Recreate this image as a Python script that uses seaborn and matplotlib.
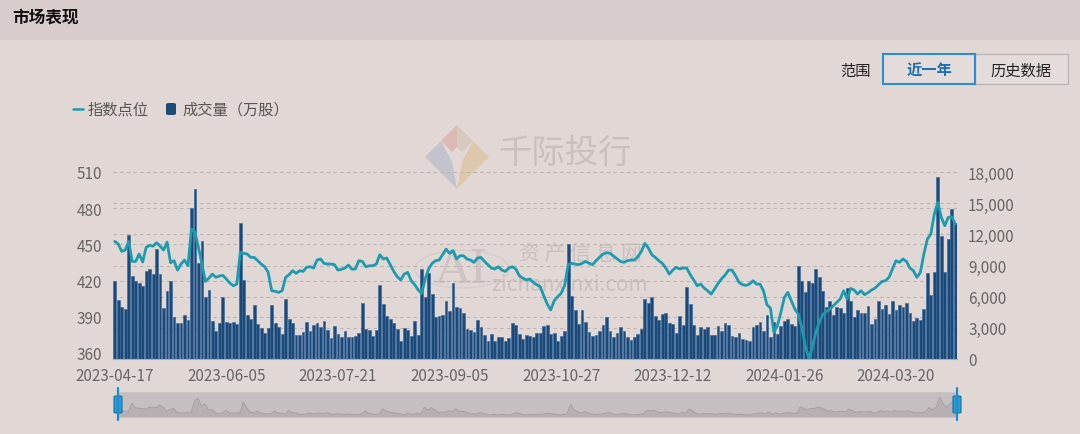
import matplotlib
matplotlib.use("Agg")
import pandas as pd
import matplotlib.pyplot as plt
from matplotlib.patches import Rectangle, Polygon, Circle, FancyBboxPatch
from matplotlib.lines import Line2D
import seaborn as sns

# x-axis labels, one every 32 trading days
tick_labels = ["2023-04-17", "2023-06-05", "2023-07-21", "2023-09-05",
               "2023-10-27", "2023-12-12", "2024-01-26", "2024-03-20"]
tick_step = 32

# 成交量（万股）, one per trading day
volume = [
    7480, 5680, 5040, 4780, 11940, 7990, 7540, 7350, 7000, 8510, 8700, 8190, 10560, 8190, 4910, 6580, 7480,
    4010, 3430, 3500, 4270, 3760, 14540, 16340, 9280, 11400, 5940, 6680, 3690, 2730, 3430, 6000, 3530, 3430,
    3530, 3370, 13060, 7610, 4270, 3820, 5230, 3370, 2990, 2500, 2950, 5170, 3500, 3080, 2410, 5810, 3820,
    3500, 2280, 2340, 2570, 3560, 2730, 3310, 3430, 3050, 3690, 2790, 2020, 3150, 2440, 2150, 2660, 2150,
    2090, 2250, 2470, 5360, 2890, 2820, 2250, 2820, 7160, 5300, 4140, 3880, 3430, 2890, 1700, 3020, 2760,
    2250, 3690, 2310, 8630, 5940, 8310, 6230, 4010, 4170, 4270, 5550, 4590, 7290, 5040, 4910, 4400, 2890,
    2790, 2570, 3760, 3110, 2340, 1770, 2410, 1770, 2090, 2150, 1770, 2020, 3500, 3310, 2410, 1930, 2280,
    2210, 2090, 2470, 2470, 3180, 3240, 2410, 2470, 1700, 2210, 2730, 11070, 6070, 4750, 3370, 4750, 3530,
    2570, 2250,
    2340, 2730, 3270, 4010, 2660, 2090, 2500, 3050, 2730, 2090, 1830, 2090, 2410, 2860, 5810, 5360, 6000,
    4140, 3760, 4330, 4460, 3500, 3370, 2540, 4170, 3310, 6900, 5300, 3310, 2340, 3050, 2860, 3050, 2340,
    2340,
    3180, 2660, 3430, 3240, 2210, 2090, 2470, 1930, 1830, 1770, 3110, 3310, 3560, 2730, 4200, 2150, 3560,
    2410, 3180, 3690, 3820, 3370, 3180, 8990, 7540, 6420, 7540, 7320, 8630, 7860, 6520, 5040, 5550,
    4270, 4980, 4910, 4460, 6840, 5620, 4010, 4720, 4460, 4460, 5100, 3370, 3880, 5620, 4850, 5170, 4330,
    5620, 4720, 5230, 5040, 5420, 4460, 3630, 3950, 3760, 4850, 8250, 6130, 8380, 17560, 11840, 8410,
    11590, 14450, 13130,
]

# 指数点位
index_pts = [
    452.5, 450.3, 444.2, 445.3, 452.5, 435.9, 435.9, 442.0, 435.4, 447.5, 449.2, 448.6, 451.4, 448.6, 445.3,
    451.9, 434.8, 436.5, 428.7, 433.7, 437.0, 432.3, 462.7, 460.0, 447.5, 433.7, 419.3, 422.1, 425.4, 422.7,
    423.8, 424.3, 421.3, 418.0,
    415.7, 417.1, 443.4, 442.6, 442.0, 439.2, 439.2, 436.5, 433.7, 431.5, 426.8, 411.6, 411.1, 410.2, 411.6,
    422.7, 424.9, 428.2, 426.0, 428.2, 427.6, 431.0, 431.5, 430.4, 437.0, 437.9, 434.3, 433.7, 433.7, 433.2,
    428.7, 429.3, 430.4, 432.9,
    429.5, 429.6, 436.5, 435.9, 431.5, 432.3, 432.3, 433.7, 441.4, 437.9, 438.7, 433.2, 427.6, 423.2, 420.5,
    425.4, 426.8, 419.9, 416.6, 412.2, 409.4, 421.3, 429.6, 434.3, 436.5, 437.0, 441.4, 446.1, 442.6, 444.8,
    437.9, 440.6, 440.6, 437.9,
    437.0, 435.1, 438.7, 439.2, 435.9, 433.2, 430.4, 429.6, 431.5, 428.7, 427.6, 430.4, 431.5, 429.6, 424.0,
    422.1, 420.5, 421.3, 418.5, 416.6, 414.9, 407.5, 400.6, 395.6, 403.3, 406.6, 409.4, 416.0, 433.2, 434.3,
    433.7, 433.2, 434.3, 435.9, 434.3, 433.2,
    436.5, 439.2, 442.0, 443.1, 442.6, 440.3, 438.1, 435.9, 435.1, 436.5, 437.0, 437.0, 439.8, 444.2, 450.8,
    447.0, 441.4, 439.2, 436.5, 434.3, 430.4, 425.4, 428.7, 431.0, 429.6, 430.4, 430.4, 424.9, 420.5, 415.7,
    417.1, 413.8, 411.6, 408.8, 413.0,
    417.7, 421.5, 424.6, 428.7, 428.7, 424.0, 418.5, 416.6, 416.0, 417.1, 419.9, 417.1, 417.1, 411.6, 400.0,
    397.2, 377.1, 382.6, 393.6, 406.1, 410.2, 403.3, 396.4, 392.3, 381.2, 366.0, 355.8, 364.1, 377.1, 385.4,
    391.7, 394.2, 396.4,
    399.0, 401.9, 404.7, 411.6, 404.7, 413.5, 412.2, 408.8, 411.6, 408.3, 410.0, 412.2, 413.8, 416.6, 419.3,
    419.9, 422.7, 429.6, 436.5, 435.1, 437.9, 435.9, 430.4, 428.2, 422.7, 426.8, 442.0, 454.4, 458.6, 475.2,
    484.8, 472.4, 465.5, 472.4, 472.9, 466.9,
]

vol_ticks = [0, 3000, 6000, 9000, 12000, 15000, 18000]
idx_ticks = [360, 390, 420, 450, 480, 510]

BG = "#e1d8d6"
BAR = "#1b4a78"
LINE = "#1c9aae"
TXT = "#666666"

sns.set_style("white")
plt.rcParams['font.family'] = ['Noto Sans CJK SC', 'DejaVu Sans']

W, H = 1080, 435
fig = plt.figure(figsize=(10.8, 4.35), dpi=100)
fig.patch.set_facecolor(BG)


def fx(x):
    return x / W


def fy(y):
    return 1 - y / H


# header band
fig.patches.append(Rectangle((0, fy(41)), 1, 41 / H, transform=fig.transFigure,
                             facecolor="#d8cdcd", edgecolor="none", zorder=0))
fig.text(fx(12), fy(18), "市场表现", fontsize=12, fontweight="bold", color="#111111", va="center")

# range buttons
fig.text(fx(855), fy(71), "范围", fontsize=11, color="#222222", ha="center", va="center")
fig.patches.append(Rectangle((fx(975), fy(85)), 93 / W, 30 / H, transform=fig.transFigure,
                             facecolor="#e4dcda", edgecolor="#bdb4b4", lw=1.0, zorder=1))
fig.patches.append(Rectangle((fx(883), fy(85)), 92 / W, 30 / H, transform=fig.transFigure,
                             facecolor="#e4dcda", edgecolor="#2b8fd3", lw=1.5, zorder=2))
fig.text(fx(929), fy(71), "近一年", fontsize=11, fontweight="bold", color="#1b6fb3", ha="center", va="center")
fig.text(fx(1021), fy(71), "历史数据", fontsize=11, color="#222222", ha="center", va="center")

# legend
fig.lines.append(Line2D([fx(73), fx(83)], [fy(110), fy(110)], transform=fig.transFigure,
                        color=LINE, lw=1.8))
fig.text(fx(88), fy(110), "指数点位", fontsize=11, color="#555555", va="center")
fig.patches.append(FancyBboxPatch((fx(166), fy(116)), 10 / W, 12 / H, transform=fig.transFigure,
                                  boxstyle="round,pad=0,rounding_size=0.003",
                                  facecolor=BAR, edgecolor="none"))
fig.text(fx(182), fy(110), "成交量（万股）", fontsize=11, color="#555555", va="center")

# main chart
df = pd.DataFrame({"day": range(len(volume)), "volume": volume, "index": index_pts})
n = len(df)

ax = fig.add_axes([fx(113), fy(360), fx(957) - fx(113), fy(173) - fy(360)])
ax.set_facecolor("none")

# watermark
wm = "#cbbfbe"
logo = [([457, 126], [441, 142], [452, 153], [457, 148]),
        ([457, 126], [473, 142], [462, 153], [457, 148]),
        ([441, 142], [425, 158], [457, 190], [452, 163]),
        ([473, 142], [489, 158], [457, 190], [462, 163])]
logo_cols = ["#d8a198", "#cbbfa9", "#a9b2c6", "#dbbb8c"]
for pts, c in zip(logo, logo_cols):
    ax.add_patch(Polygon([(fx(p[0]), fy(p[1])) for p in pts], closed=True,
                         transform=fig.transFigure, facecolor=c, edgecolor="none",
                         alpha=0.55, zorder=0, clip_on=False))
ax.text(fx(565), fy(153), "千际投行", transform=fig.transFigure, fontsize=24,
        color=wm, ha="center", va="center", zorder=0)
ax.add_patch(Circle((fx(462), fy(270)), 47 / W, transform=fig.transFigure,
                    facecolor="none", edgecolor="#d6cccb", lw=1.0, zorder=0, clip_on=False))
ax.text(fx(462), fy(270), "AI", transform=fig.transFigure, fontsize=34,
        family="DejaVu Serif", color="#cfc4c3", ha="center", va="center", zorder=0)
ax.text(fx(580), fy(254), "资 产 信 息 网", transform=fig.transFigure, fontsize=15,
        color=wm, ha="center", va="center", zorder=0)
ax.text(fx(570), fy(285), "zichanxinxi.com", transform=fig.transFigure, fontsize=15,
        color=wm, ha="center", va="center", zorder=0)

# grid lines of both value axes
for t in vol_ticks[1:]:
    ax.hlines(t / 18000, 0, 1, transform=ax.transAxes, colors="#bdb3b2",
              linestyles=(0, (3, 3)), lw=0.8, zorder=0.5)
for t in idx_ticks:
    ax.hlines((t - 355) / 155, 0, 1, transform=ax.transAxes, colors="#bdb3b2",
              linestyles=(0, (3, 3)), lw=0.8, zorder=0.5)

sns.barplot(data=df, x="day", y="volume", ax=ax, color=BAR, saturation=1, width=0.8,
            errorbar=None, edgecolor="#34659a", linewidth=0.4, zorder=2)
ax.set_ylim(0, 18000)
ax.set_yticks(vol_ticks)
ax.set_yticklabels([f"{v:,}" for v in vol_ticks])
ax.set_xticks(range(0, n, tick_step))
ax.set_xticklabels(tick_labels)
ax.set_xlabel("")
ax.set_ylabel("")
for s in ["top", "left", "right"]:
    ax.spines[s].set_visible(False)
ax.spines["bottom"].set_color("#b3abab")

ax2 = ax.twinx()
sns.lineplot(data=df, x="day", y="index", ax=ax2, color=LINE, linewidth=2)
ax2.set_ylim(355, 510)
ax2.set_yticks(idx_ticks)
ax2.set_ylabel("")
ax2.set_xlabel("")
for s in ax2.spines.values():
    s.set_visible(False)

# twinx moves the ticks, so set the sides afterwards
ax.yaxis.tick_right()
ax2.yaxis.tick_left()
ax.tick_params(axis="both", length=0, labelsize=11, labelcolor=TXT)
ax.tick_params(axis="y", pad=8)
ax.tick_params(axis="x", pad=6)
ax2.tick_params(axis="y", length=0, labelsize=11, labelcolor=TXT, pad=8)
ax.set_xlim(-0.5, n - 0.5)

# data zoom slider
sax = fig.add_axes([fx(118), fy(418), fx(957) - fx(118), 25 / H])
sax.set_facecolor("#c6bfc2")
sax.fill_between(df["day"], df["volume"], color="#b7b0b3", lw=0)
sax.plot(df["day"], df["volume"], color="#a9a2a5", lw=0.8)
sax.set_xlim(0, n - 1)
sax.set_ylim(0, max(volume) * 1.25)
sax.set_xticks([])
sax.set_yticks([])
for s in sax.spines.values():
    s.set_color("#cbc4c6")
for hx in (118, 957):
    fig.lines.append(Line2D([fx(hx), fx(hx)], [fy(421), fy(389)], transform=fig.transFigure,
                            color="#1a8fd0", lw=1.6))
    fig.patches.append(FancyBboxPatch((fx(hx - 4), fy(414)), 8 / W, 17 / H,
                                      transform=fig.transFigure,
                                      boxstyle="round,pad=0,rounding_size=0.002",
                                      facecolor="#2a9ad6", edgecolor="#17709f", lw=0.8))

fig.savefig("out.png", dpi=100, facecolor=BG)
